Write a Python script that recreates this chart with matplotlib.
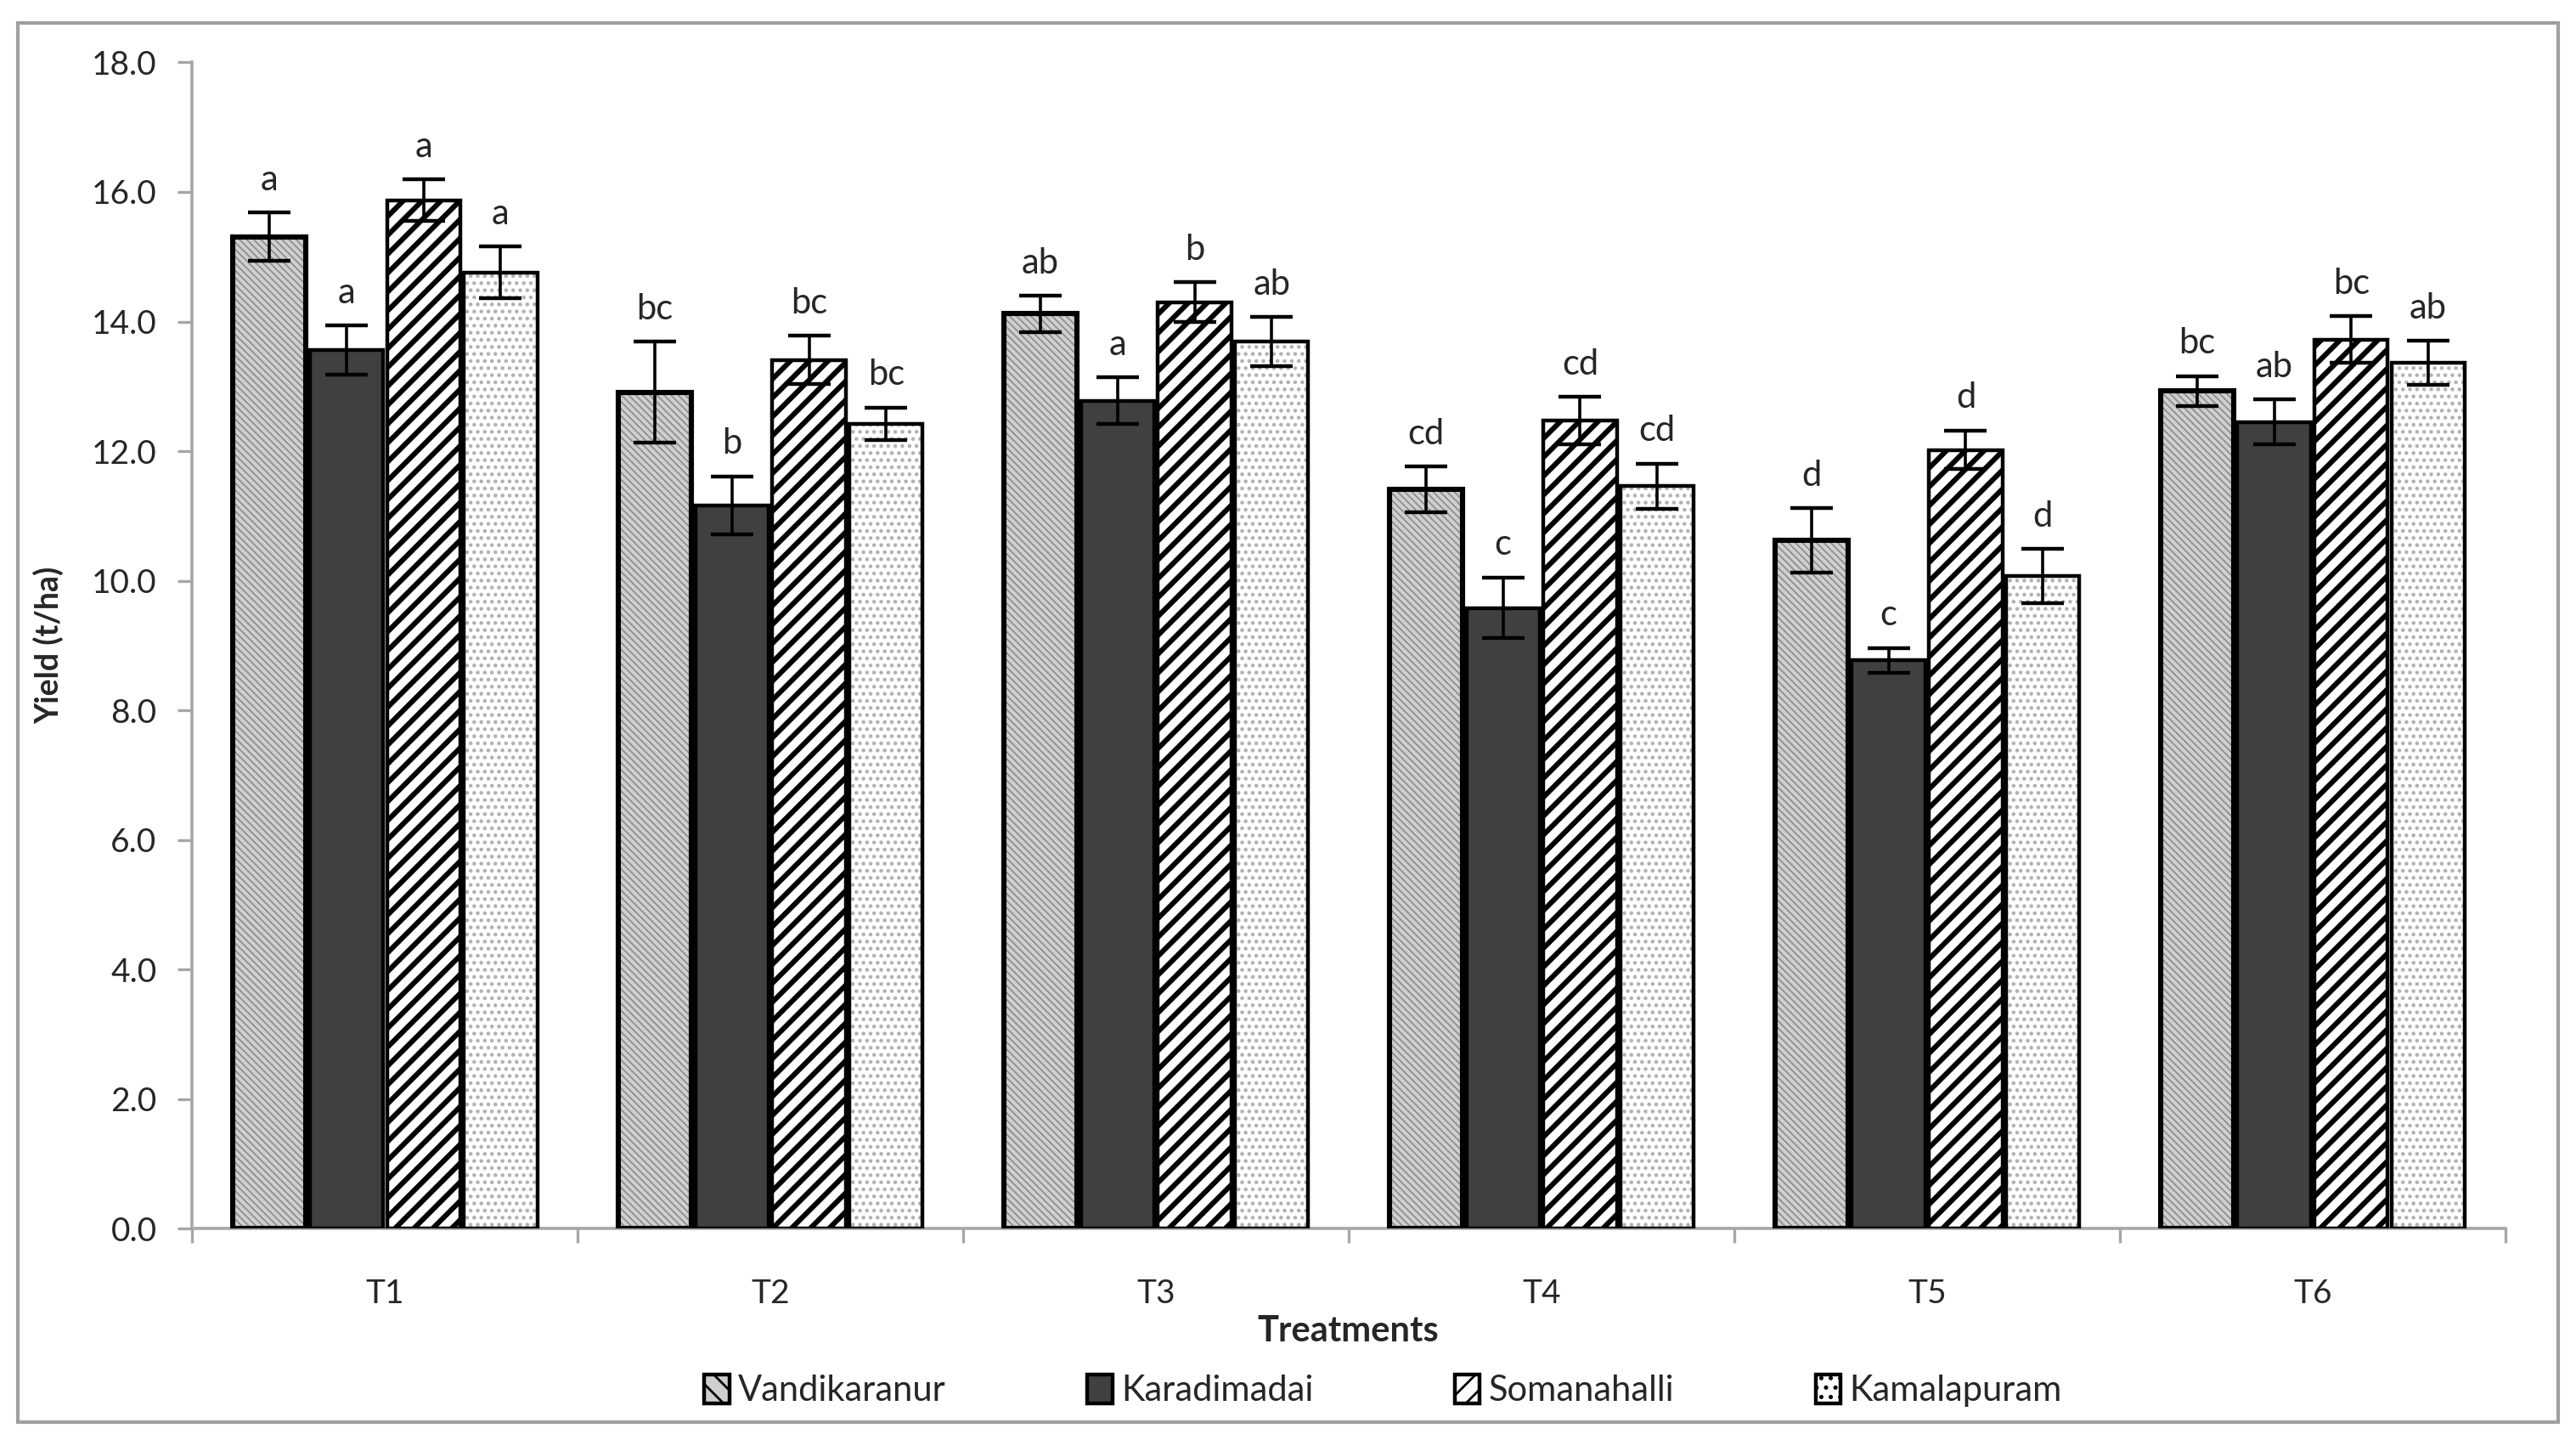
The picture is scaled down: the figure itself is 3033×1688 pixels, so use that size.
import numpy as np
import matplotlib
matplotlib.use("Agg")
import matplotlib.pyplot as plt
from matplotlib.patches import Rectangle, Patch

plt.rcParams['font.family'] = ['Lato', 'DejaVu Sans']

# ---- data ----
treatments = ["T1", "T2", "T3", "T4", "T5", "T6"]
sites = ["Vandikaranur", "Karadimadai", "Somanahalli", "Kamalapuram"]

vandikaranur = [15.31, 12.91, 14.12, 11.41, 10.62, 12.93]
karadimadai = [13.56, 11.16, 12.78, 9.58, 8.77, 12.45]
somanahalli = [15.87, 13.41, 14.30, 12.47, 12.02, 13.72]
kamalapuram = [14.76, 12.42, 13.69, 11.46, 10.07, 13.36]

err_vandikaranur = [0.37, 0.78, 0.28, 0.35, 0.50, 0.23]
err_karadimadai = [0.38, 0.45, 0.36, 0.47, 0.19, 0.35]
err_somanahalli = [0.32, 0.37, 0.31, 0.37, 0.30, 0.36]
err_kamalapuram = [0.40, 0.25, 0.38, 0.35, 0.42, 0.34]

let_vandikaranur = ["a", "bc", "ab", "cd", "d", "bc"]
let_karadimadai = ["a", "b", "a", "c", "c", "ab"]
let_somanahalli = ["a", "bc", "b", "cd", "d", "bc"]
let_kamalapuram = ["a", "bc", "ab", "cd", "d", "ab"]

values = [vandikaranur, karadimadai, somanahalli, kamalapuram]
errors = [err_vandikaranur, err_karadimadai, err_somanahalli, err_kamalapuram]
letters = [let_vandikaranur, let_karadimadai, let_somanahalli, let_kamalapuram]

# fill / hatch / hatch colour / edge width for each site
styles = [
    dict(face="#cfcfcf", hatch="\\\\\\\\\\\\\\\\", hcol="#8a8a8a", lw=2.2, hlw=0.6),
    dict(face="#404040", hatch="", hcol="#404040", lw=1.6, hlw=0.6),
    dict(face="white", hatch="///", hcol="black", lw=1.6, hlw=2.2),
    dict(face="white", hatch="....", hcol="#b0b0b0", lw=1.6, hlw=1.0),
]

fig = plt.figure(figsize=(15.165, 8.44), dpi=200)
ax = fig.add_axes([0.0746, 0.1432, 0.898, 0.8133])

x = np.arange(len(treatments))
pitch = 0.2
width = 0.19
txt = "#262626"

for i, (vals, errs, lets, st) in enumerate(zip(values, errors, letters, styles)):
    pos = x + (i - 1.5) * pitch
    # hatch layer
    with plt.rc_context({'hatch.linewidth': st["hlw"]}):
        ax.bar(pos, vals, width, color=st["face"], hatch=st["hatch"],
               edgecolor=st["hcol"], linewidth=0, zorder=2)
    # outline layer
    ax.bar(pos, vals, width, fill=False, edgecolor="black",
           linewidth=st["lw"], zorder=3)
    ax.errorbar(pos, vals, yerr=errs, fmt="none", ecolor="black",
                elinewidth=1.3, capsize=9, capthick=1.6, zorder=4)
    for p, v, e, l in zip(pos, vals, errs, lets):
        ax.annotate(l, (p, v + e), xytext=(0, 7), textcoords="offset points",
                    ha="center", va="bottom", fontsize=15, color=txt)

ax.set_xlim(-0.5, len(treatments) - 0.5)
ax.set_ylim(0, 18)
ax.set_yticks(np.arange(0, 18.1, 2))
ax.set_yticklabels([f"{v:.1f}" for v in np.arange(0, 18.1, 2)])

# Excel-style category axis: ticks between groups, labels at the centres
ax.set_xticks(np.arange(-0.5, len(treatments), 1.0))
ax.set_xticklabels([])
ax.set_xticks(x, minor=True)
ax.set_xticklabels(treatments, minor=True)
ax.tick_params(axis="x", which="minor", length=0, pad=21, labelsize=14, labelcolor=txt)
ax.tick_params(axis="x", which="major", length=6, color="#a6a6a6", width=1.2)
ax.tick_params(axis="y", length=6, color="#a6a6a6", width=1.2, pad=9,
               labelsize=14, labelcolor=txt)

for s in ["top", "right"]:
    ax.spines[s].set_visible(False)
for s in ["left", "bottom"]:
    ax.spines[s].set_color("#a6a6a6")
    ax.spines[s].set_linewidth(1.3)

fig.text(0.5234, 0.0715, "Treatments", ha="center", va="center",
         fontsize=15, fontweight="bold", color=txt)
fig.text(0.019, 0.55, "Yield (t/ha)", ha="center", va="center",
         rotation=90, fontsize=13.5, fontweight="bold", color=txt)

handles = []
for st, name in zip(styles, sites):
    handles.append(Patch(facecolor=st["face"], hatch=st["hatch"][:3],
                         edgecolor="black", linewidth=1.6, label=name))
fig.legend(handles=handles, loc="center", bbox_to_anchor=(0.537, 0.030),
           ncol=4, frameon=False, fontsize=15, handlelength=0.7,
           handleheight=0.85, handletextpad=0.25, columnspacing=4.0,
           labelcolor=txt)

# outer chart border
fig.add_artist(Rectangle((0.007, 0.008), 0.986, 0.976, transform=fig.transFigure,
                         fill=False, edgecolor="#a0a0a0", linewidth=1.5))

fig.savefig("out.png", dpi=200, facecolor="white")
